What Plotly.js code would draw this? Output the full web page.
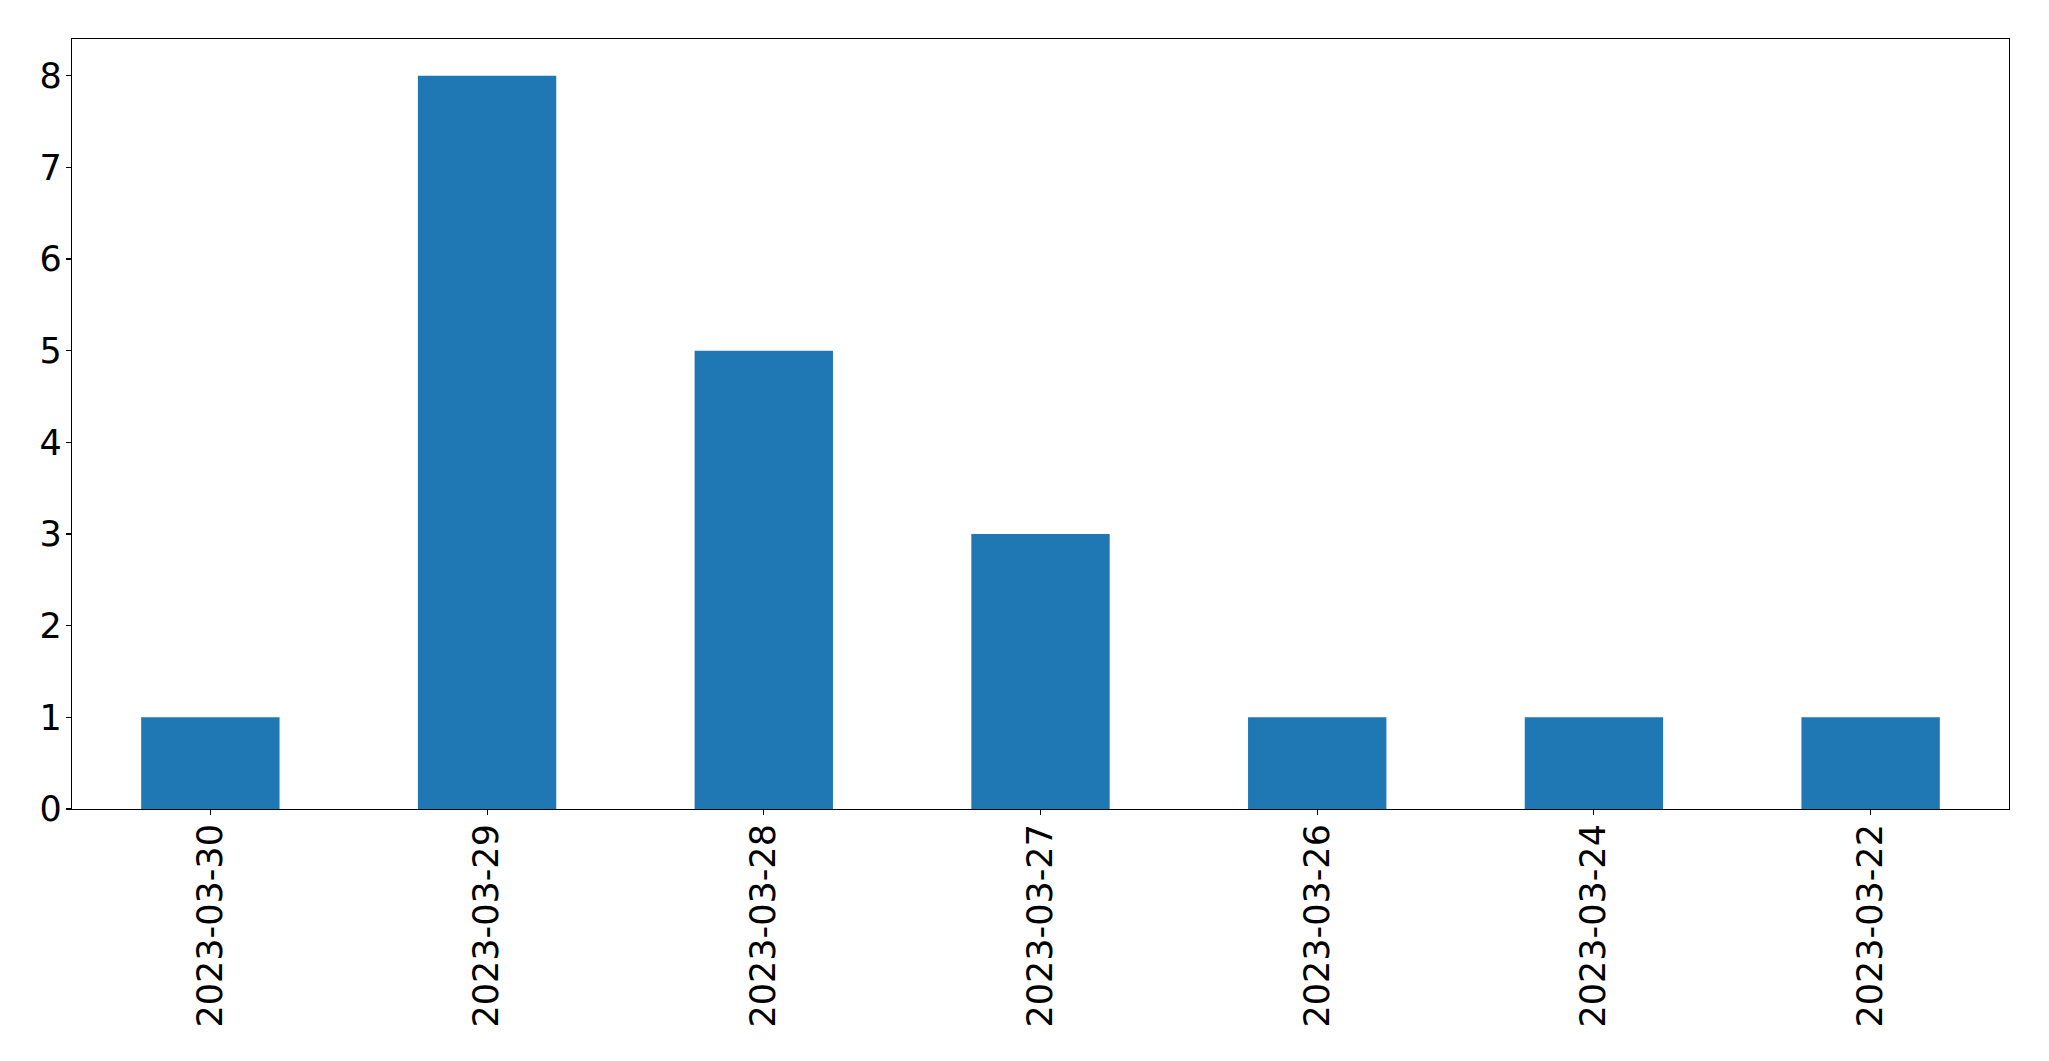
<!DOCTYPE html>
<html>
<head>
<meta charset="utf-8">
<script src="https://cdn.plot.ly/plotly-3.0.1.min.js"></script>
<style>
html,body{margin:0;padding:0;background:#fff;}
#chart{width:2049px;height:1061px;}
</style>
</head>
<body>
<div id="chart"></div>
<script>
const dates = ["2023-03-30","2023-03-29","2023-03-28","2023-03-27","2023-03-26","2023-03-24","2023-03-22"];
const counts = [1, 8, 5, 3, 1, 1, 1];
const yTicks = [0,1,2,3,4,5,6,7,8];

const trace = {
  type: "bar",
  x: dates,
  y: counts,
  marker: {color: "#1f77b4", line: {width: 0}},
  hoverinfo: "x+y"
};

const axisCommon = {
  showline: true,
  mirror: true,
  linecolor: "#000",
  linewidth: 1.1,
  ticks: "outside",
  ticklen: 5,
  tickwidth: 1.1,
  tickcolor: "#000",
  showgrid: false,
  zeroline: false,
  tickfont: {family: "DejaVu Sans", size: 35, color: "#000"}
};

const layout = {
  width: 2049,
  height: 1061,
  margin: {l: 72, r: 40, t: 39, b: 252, pad: 0},
  paper_bgcolor: "#fff",
  plot_bgcolor: "#fff",
  showlegend: false,
  bargap: 0.5,
  xaxis: Object.assign({}, axisCommon, {
    type: "category",
    range: [-0.5, 6.5],
    tickangle: -90,
    ticklabelstandoff: -5
  }),
  yaxis: Object.assign({}, axisCommon, {
    range: [0, 8.4],
    tickvals: yTicks,
    ticktext: yTicks.map(String),
    ticklabelstandoff: -3
  })
};

Plotly.newPlot("chart", [trace], layout, {displayModeBar: false, staticPlot: true});
</script>
</body>
</html>
